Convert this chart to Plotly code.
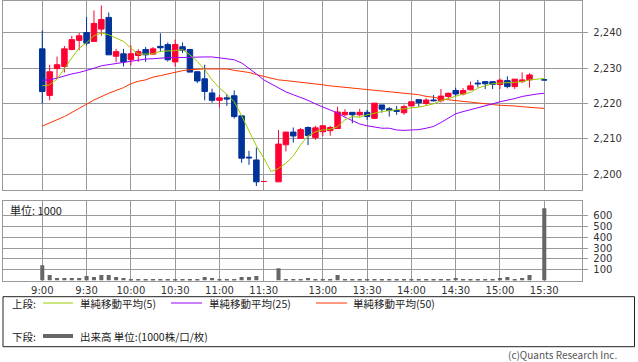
import plotly.graph_objects as go

# ---- categories (5-minute slots) ----
morning = [f"{h}:{m:02d}" for h in (9, 10, 11) for m in range(0, 60, 5) if (h, m) <= (11, 30)]
afternoon = [f"{h}:{m:02d}" for h in (12, 13, 14, 15) for m in range(0, 60, 5) if (12, 30) <= (h, m) <= (15, 30)]
times = morning + ["12:25"] + afternoon

tick_labels = ["9:00", "9:30", "10:00", "10:30", "11:00", "11:30",
               "13:00", "13:30", "14:00", "14:30", "15:00", "15:30"]

# ---- OHLC (None = no candle) ----
opens = [2235.5, 2222.3, 2229.9, 2230.5, 2235.3, 2237.9, 2240.1, 2237.6, 2241.1, 2244.4,
         2233.4, 2234.1, 2232.4, 2233.6, 2235.3, 2234.0, 2236.2, 2236.7, 2231.8, 2236.1,
         2235.3, 2229.0, 2227.0, 2223.0, 2220.9, 2221.6, 2222.2, 2216.5, 2204.8, 2204.0,
         2197.9, None, 2197.8, 2208.3, 2211.9, 2210.1, 2213.2, 2210.3, 2212.0, 2212.3,
         2212.9, 2216.8, 2217.5, 2216.8, 2217.5, 2215.8, 2219.6, 2218.5, 2218.0, 2217.4,
         2219.3, 2221.1, 2220.0, 2221.0, 2220.8, 2222.0, 2223.7, 2222.7, 2223.9, 2225.8,
         2226.2, 2226.2, 2225.4, 2226.5, 2224.8, 2226.2, 2226.7, None, 2226.7]
highs = [2240.7, 2231.0, 2233.3, 2236.3, 2239.2, 2240.0, 2244.5, 2246.4, 2247.8, 2245.8,
         2235.5, 2235.5, 2236.5, 2235.4, 2236.0, 2236.0, 2239.9, 2237.3, 2238.1, 2237.3,
         2235.5, 2229.2, 2231.0, 2224.2, 2222.4, 2222.7, 2223.7, 2216.5, 2206.6, 2207.5,
         2197.9, None, 2212.5, 2211.9, 2213.2, 2213.1, 2213.5, 2213.7, 2213.7, 2213.7,
         2219.1, 2218.4, 2217.5, 2218.5, 2218.2, 2220.1, 2219.6, 2219.0, 2219.3, 2219.7,
         2220.5, 2221.1, 2221.5, 2222.4, 2224.1, 2223.1, 2224.5, 2224.4, 2226.2, 2226.7,
         2226.2, 2226.2, 2227.1, 2227.7, 2226.9, 2228.8, 2228.6, None, 2226.7]
lows = [2220.0, 2220.9, 2227.2, 2228.8, 2235.1, 2235.1, 2236.5, 2237.6, 2239.2, 2233.8,
        2231.7, 2230.5, 2230.8, 2231.8, 2231.8, 2233.8, 2234.6, 2231.9, 2230.5, 2234.3,
        2228.9, 2225.8, 2220.9, 2220.2, 2218.9, 2219.3, 2215.7, 2203.2, 2202.6, 2196.6,
        2197.9, None, 2197.8, 2206.4, 2208.9, 2210.0, 2208.2, 2209.7, 2210.8, 2210.9,
        2212.9, 2216.3, 2214.4, 2216.3, 2215.4, 2215.6, 2217.4, 2216.3, 2216.8, 2216.8,
        2219.3, 2219.0, 2219.5, 2220.6, 2220.3, 2221.4, 2222.0, 2222.3, 2223.7, 2224.6,
        2224.1, 2224.1, 2224.1, 2224.3, 2224.1, 2225.8, 2224.5, None, 2226.7]
closes = [2223.4, 2229.0, 2231.0, 2235.5, 2238.1, 2239.2, 2237.1, 2242.7, 2243.8, 2233.8,
          2234.7, 2231.8, 2234.1, 2234.7, 2233.8, 2235.5, 2235.8, 2232.4, 2236.7, 2235.1,
          2228.9, 2226.4, 2223.4, 2220.9, 2221.6, 2221.3, 2216.3, 2204.5, 2204.6, 2197.8,
          2197.9, None, 2208.5, 2211.9, 2210.8, 2212.6, 2210.9, 2213.1, 2213.7, 2213.2,
          2217.6, 2217.5, 2216.8, 2217.5, 2216.3, 2220.1, 2218.4, 2218.0, 2217.8, 2219.1,
          2220.5, 2220.2, 2221.0, 2220.8, 2222.1, 2222.9, 2222.7, 2223.7, 2225.0, 2225.6,
          2225.6, 2225.4, 2226.6, 2224.8, 2226.9, 2226.7, 2228.1, None, 2226.7]

# ---- volume (unit: 1000) ----
volume = [141, 50, 23, 23, 23, 23, 41, 32, 50, 50,
          32, 23, 14, 14, 8, 8, 14, 14, 14, 8,
          14, 14, 32, 23, 14, 14, 14, 32, 32, 41,
          None, None, 114, 14, 14, 14, 23, 14, 14, 14,
          50, 14, 14, 10, 14, 14, 10, 10, 10, 10,
          10, 14, 14, 14, 14, 14, 23, 14, 14, 14,
          14, 14, 23, 32, 14, 23, 50, None, 670]

# ---- moving averages ----
sma5 = [2225.0, 2225.3, 2226.9, 2230.0, 2232.9, 2235.7, 2237.2, 2239.2, 2240.0, 2239.5,
        2238.6, 2237.6, 2235.7, 2234.0, 2234.0, 2234.1, 2234.8, 2234.8, 2235.0, 2235.3,
        2233.8, 2231.9, 2229.6, 2226.7, 2224.4, 2222.6, 2220.5, 2216.5, 2212.2, 2208.0,
        2204.5, 2200.7, 2201.6, 2203.1, 2205.1, 2208.3, 2210.8, 2212.0, 2212.5, 2212.7,
        2213.4, 2215.4, 2216.3, 2216.1, 2216.8, 2217.3, 2217.7, 2218.0, 2218.2, 2218.6,
        2218.8, 2219.0, 2219.4, 2219.9, 2220.8, 2221.5, 2222.2, 2222.7, 2223.1, 2224.4,
        2225.0, 2225.6, 2225.8, 2225.8, 2226.0, 2226.2, 2226.7, 2226.9, 2227.1]
sma25 = [2226.6, 2226.7, 2227.2, 2227.9, 2228.4, 2228.8, 2229.3, 2230.0, 2230.7, 2231.0,
         2231.5, 2231.7, 2232.1, 2232.4, 2232.6, 2232.7, 2232.9, 2233.0, 2233.0, 2233.1,
         2233.1, 2233.1, 2233.2, 2233.2, 2232.9, 2232.6, 2232.4, 2231.5, 2230.0, 2228.4,
         2226.7, 2225.6, 2224.4, 2223.3, 2222.5, 2221.8, 2220.9, 2219.9, 2219.1, 2218.2,
         2217.3, 2216.1, 2215.2, 2214.2, 2213.7, 2213.3, 2213.0, 2213.0, 2212.5, 2212.4,
         2212.5, 2212.6, 2213.0, 2213.5, 2214.6, 2215.8, 2217.1, 2217.7, 2218.2, 2218.7,
         2219.3, 2219.9, 2220.5, 2220.9, 2221.4, 2222.0, 2222.4, 2222.7, 2222.9]
sma50 = [2213.6, 2214.4, 2215.4, 2216.3, 2217.4, 2218.7, 2219.8, 2221.0, 2222.0, 2222.9,
         2223.7, 2224.5, 2225.6, 2226.3, 2226.7, 2227.5, 2227.9, 2228.4, 2228.8, 2229.3,
         2229.6, 2229.8, 2229.8, 2229.8, 2229.8, 2229.8, 2229.4, 2229.1, 2228.8, 2228.2,
         2227.7, 2227.2, 2226.7, 2226.5, 2226.3, 2226.1, 2225.8, 2225.6, 2225.3, 2225.0,
         2224.8, 2224.6, 2224.3, 2224.1, 2223.9, 2223.7, 2223.4, 2223.2, 2223.1, 2222.9,
         2222.7, 2222.5, 2222.0, 2221.8, 2221.3, 2221.0, 2220.8, 2220.6, 2220.4, 2220.1,
         2219.9, 2219.7, 2219.5, 2219.5, 2219.3, 2219.1, 2218.9, 2218.8, 2218.6]

price_ticks = [2200, 2210, 2220, 2230, 2240]
vol_ticks = [100, 200, 300, 400, 500, 600]

# ---- styles ----
W, H = 638, 362
RED, BLUE = "#ff0033", "#003399"
C5, C25, C50 = "#99cc00", "#9900ff", "#ff3300"
GRID = "#999999"
FONT = "DejaVu Sans"
JFONT = "Noto Sans CJK JP"

def px(x):
    return x / W

def py(y):
    return 1 - y / H

idx = [i for i, o in enumerate(opens) if o is not None]
vidx = [i for i, v in enumerate(volume) if v is not None]

fig = go.Figure()
fig.add_trace(go.Candlestick(
    x=[times[i] for i in idx],
    open=[opens[i] for i in idx], high=[highs[i] for i in idx],
    low=[lows[i] for i in idx], close=[closes[i] for i in idx],
    increasing=dict(line=dict(color=RED, width=1), fillcolor=RED),
    decreasing=dict(line=dict(color=BLUE, width=1), fillcolor=BLUE),
    whiskerwidth=0, xaxis="x", yaxis="y", hoverinfo="skip"))
for vals, col in ((sma50, C50), (sma25, C25), (sma5, C5)):
    fig.add_trace(go.Scatter(x=times, y=vals, mode="lines",
                             line=dict(color=col, width=1),
                             xaxis="x", yaxis="y", hoverinfo="skip"))
fig.add_trace(go.Bar(x=[times[i] for i in vidx], y=[volume[i] for i in vidx],
                     marker=dict(color="#666666", line=dict(width=0)), width=0.55,
                     xaxis="x2", yaxis="y2", hoverinfo="skip"))

xdom = [px(3.3), px(582.3)]
xr = [-5.28, 73.15]
common_x = dict(type="category", categoryorder="array", categoryarray=times,
                range=xr, domain=xdom, showgrid=True, gridcolor=GRID, gridwidth=1,
                tickvals=tick_labels, ticktext=tick_labels, ticks="",
                showline=True, mirror=True, linecolor=GRID, zeroline=False,
                fixedrange=True)
common_y = dict(side="right", showgrid=True, gridcolor=GRID, gridwidth=1,
                ticks="outside", ticklen=5, tickcolor=GRID, showline=True,
                mirror=True, linecolor=GRID, zeroline=False, ticklabelstandoff=3,
                tickfont=dict(family=FONT, size=10, color="#333333"))

fig.update_layout(
    width=W, height=H, margin=dict(l=0, r=0, t=0, b=0),
    paper_bgcolor="white", plot_bgcolor="white", showlegend=False,
    boxgap=0, boxgroupgap=0.255,
    xaxis=dict(common_x, anchor="y", showticklabels=False,
               rangeslider=dict(visible=False)),
    xaxis2=dict(common_x, anchor="y2", showticklabels=True,
                tickfont=dict(family=FONT, size=10, color="#333333")),
    yaxis=dict(common_y, domain=[py(190.3), py(0.5)], range=[2195.4, 2249.2],
               tickvals=price_ticks, tickformat=",d"),
    yaxis2=dict(common_y, domain=[py(280.5), py(201)], range=[0, 736],
                tickvals=vol_ticks),
)

# ---- legend box ----
shapes = [dict(type="rect", xref="paper", yref="paper", x0=px(3), x1=px(634.5),
               y0=py(346.7), y1=py(296.7), line=dict(color="#222222", width=1))]
for x0, x1, yy, col, w in ((43, 73, 303, C5, 1), (171, 202, 303, C25, 1),
                           (316, 347, 303, C50, 1), (43, 73, 336, "#666666", 4)):
    shapes.append(dict(type="line", xref="paper", yref="paper", x0=px(x0), x1=px(x1),
                       y0=py(yy), y1=py(yy), line=dict(color=col, width=w)))
fig.update_layout(shapes=shapes)

ann = []
def txt(x, y, s, anchor="left", size=10.5, color="#222222"):
    ann.append(dict(xref="paper", yref="paper", x=px(x), y=py(y), text=s,
                    showarrow=False, xanchor=anchor, yanchor="middle",
                    font=dict(family=JFONT, size=size, color=color)))
txt(8, 209.5, "単位: 1000", size=11)
txt(10, 303, "上段:")
txt(78, 303, "単純移動平均(5)")
txt(207, 303, "単純移動平均(25)")
txt(351, 303, "単純移動平均(50)")
txt(10, 336, "下段:")
txt(78, 336, "出来高 単位:(1000株/口/枚)")
txt(619, 354.5, "(c)Quants Research Inc.", anchor="right", size=10, color="#555555")
fig.update_layout(annotations=ann)

fig.write_html("out.html", config={"displayModeBar": False},
               post_script="document.body.style.margin='0px';document.body.style.padding='0px';")
